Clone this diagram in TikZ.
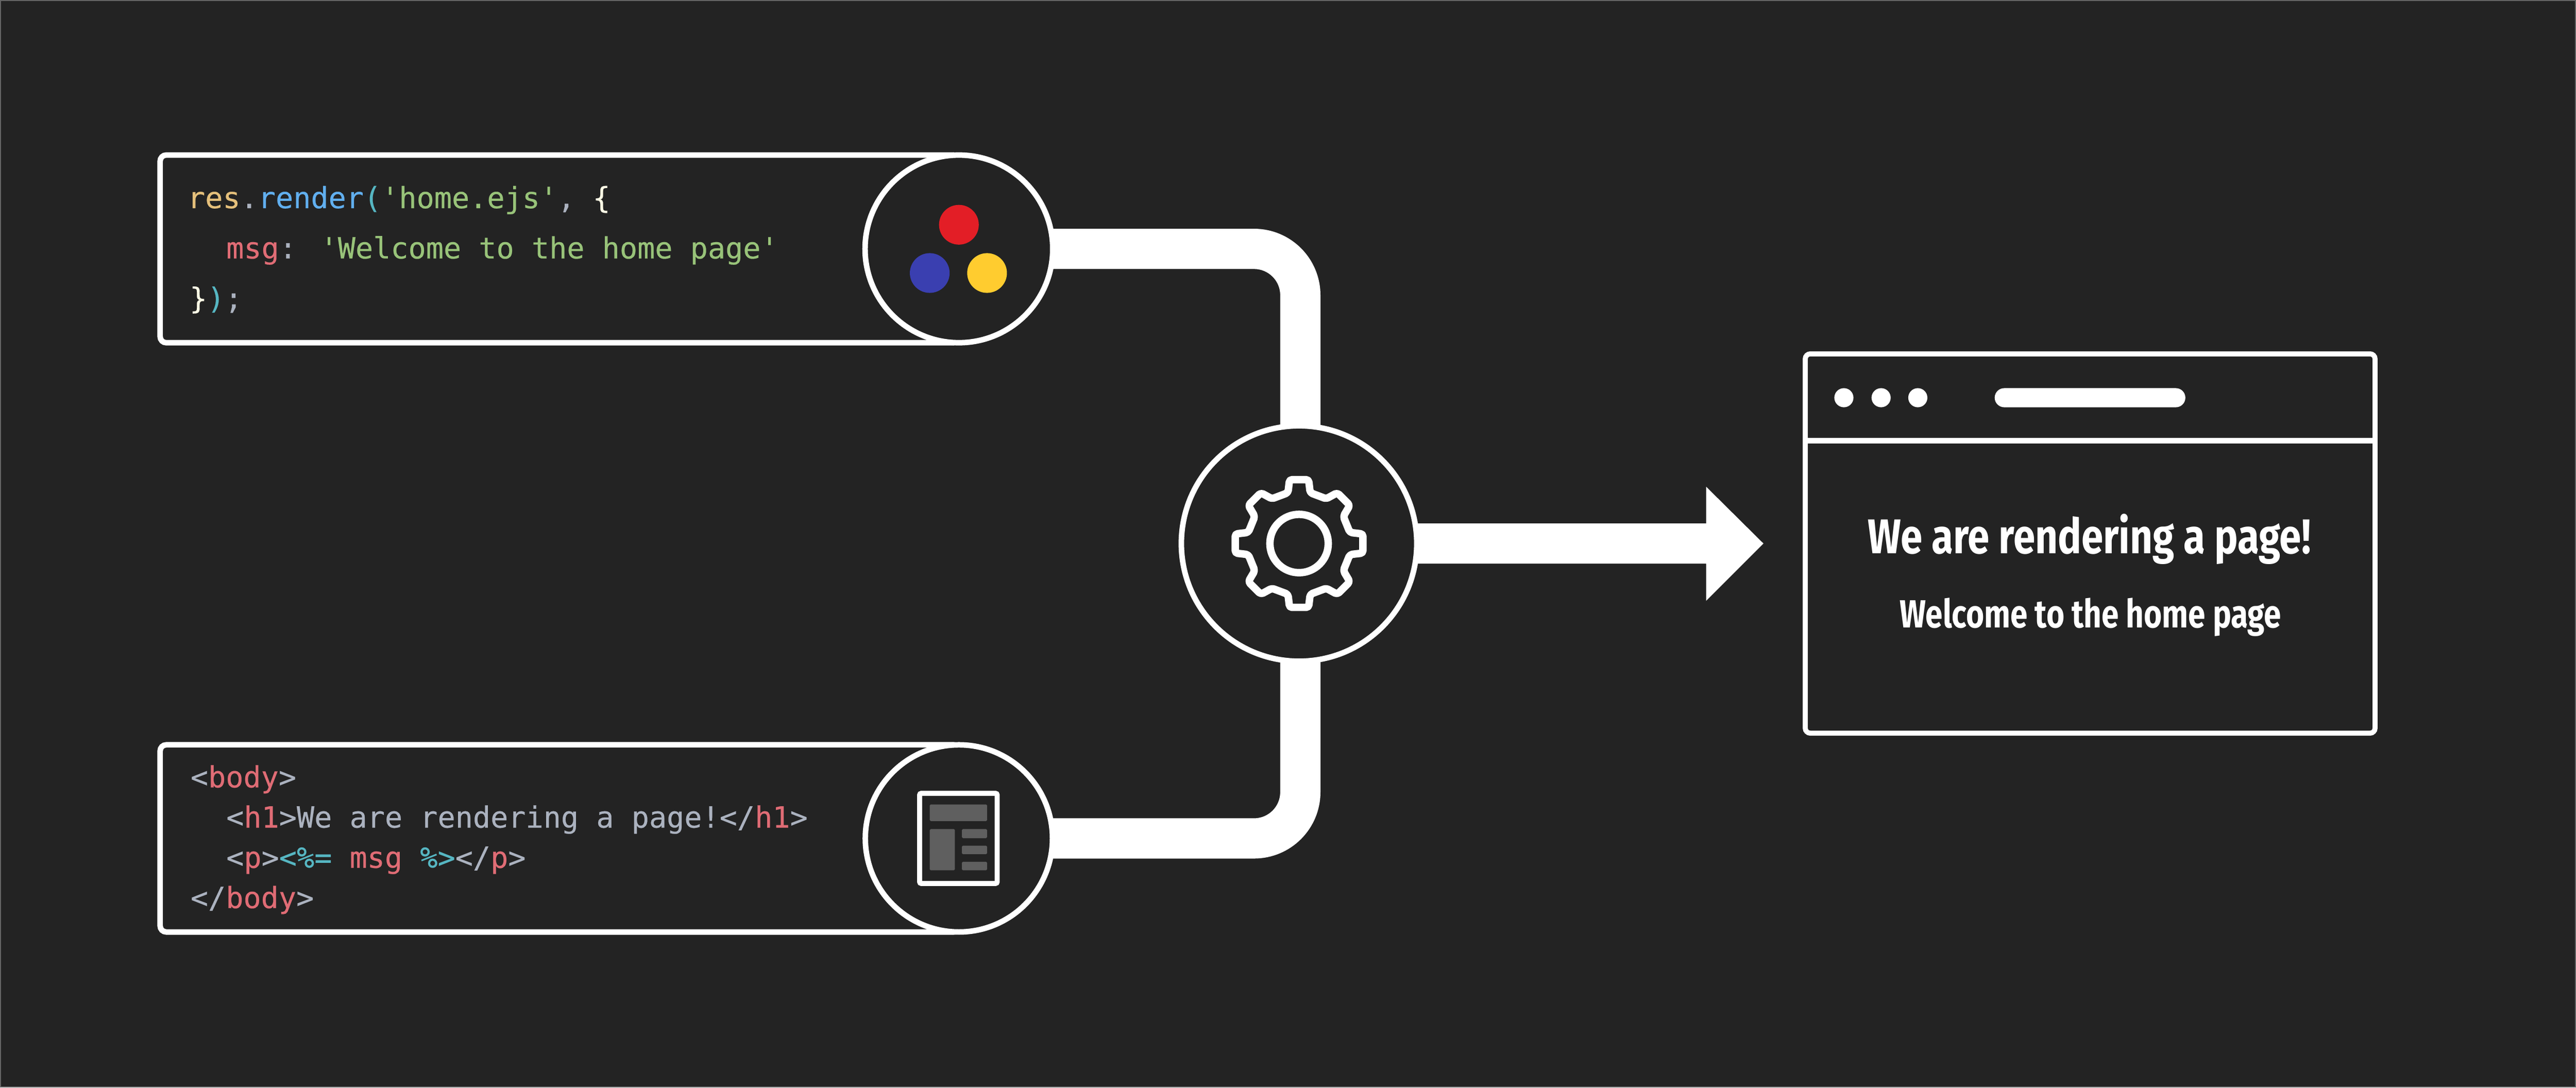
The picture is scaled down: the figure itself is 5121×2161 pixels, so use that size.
\documentclass[tikz,border=0pt]{standalone}
\usepackage{fontspec}
\newfontfamily\codef{DejaVu Sans Mono}[FakeBold=0.35]
\newfontfamily\headf{Fira Sans}
\definecolor{bgc}{HTML}{232323}
\definecolor{edgec}{HTML}{666666}
\definecolor{cred}{HTML}{E06C75}
\definecolor{cgreen}{HTML}{98C379}
\definecolor{cgray}{HTML}{ABB2BF}
\definecolor{cblue}{HTML}{61AFEF}
\definecolor{cteal}{HTML}{56B6C2}
\definecolor{corange}{HTML}{E5C07B}
\definecolor{cbrace}{HTML}{FFFBE6}
\definecolor{iconfill}{HTML}{5F5F5F}
\definecolor{dotred}{HTML}{E31E26}
\definecolor{dotblue}{HTML}{3A3FB0}
\definecolor{dotyellow}{HTML}{FFCC2F}
\pgfdeclarelayer{back}\pgfdeclarelayer{wires}
\pgfsetlayers{back,wires,main}
\newcommand{\cR}[1]{\textcolor{cred}{#1}}
\newcommand{\cG}[1]{\textcolor{cgreen}{#1}}
\newcommand{\cA}[1]{\textcolor{cgray}{#1}}
\newcommand{\cB}[1]{\textcolor{cblue}{#1}}
\newcommand{\cT}[1]{\textcolor{cteal}{#1}}
\newcommand{\cO}[1]{\textcolor{corange}{#1}}
\newcommand{\cW}[1]{\textcolor{cbrace}{#1}}
\tikzset{
  panel/.style={draw=white,line width=0.11cm,fill=bgc,rounded corners=0.12cm,inner sep=0pt,outer sep=0pt},
  hub/.style={circle,draw=white,line width=0.11cm,fill=bgc,inner sep=0pt,outer sep=0pt,minimum size=3.73cm},
  gearhub/.style={circle,draw=white,line width=0.11cm,fill=bgc,inner sep=0pt,outer sep=0pt,minimum size=4.68cm},
  wire/.style={draw=white,line width=0.8cm,rounded corners=0.92cm},
  codeline/.style={anchor=base west,inner sep=0pt,outer sep=0pt,font=\codef\fontsize{16.55}{16.55}\selectfont},
  dot/.style={circle,fill=#1,inner sep=0pt,outer sep=0pt,minimum size=0.79cm},
  tinydot/.style={circle,fill=white,inner sep=0pt,outer sep=0pt,minimum size=0.38cm},
  iconblock/.style={fill=iconfill,rounded corners=0.02cm},
  geartrace/.style={draw=white,line width=0.148cm,line join=round,rounded corners=0.05cm},
  heading/.style={anchor=base,inner sep=0pt,outer sep=0pt,text=white,transform shape},
}
\begin{document}
\begin{tikzpicture}[x=0.01cm,y=-0.01cm]
\begin{pgfonlayer}{back}
  \fill[bgc] (0,0) rectangle (5121,2161);
  \draw[edgec,line width=0.02cm] (0,0) rectangle (5121,2161);
\end{pgfonlayer}
\useasboundingbox (0,0) rectangle (5121,2161);
% panels
\node[panel,minimum width=15.885cm,minimum height=3.73cm,anchor=west] (codeA) at (317.5,494) {};
\node[panel,minimum width=15.885cm,minimum height=3.72cm,anchor=west] (codeB) at (317.5,1666.5) {};
% hubs
\node[hub] (hubA) at (1906,494) {};
\node[hub,minimum size=3.72cm] (hubB) at (1906,1666.5) {};
\node[gearhub] (gear) at (2582.5,1080) {};
% browser
\node[panel,line width=0.10cm,minimum width=11.325cm,minimum height=7.54cm,rounded corners=0.1cm] (browser) at (4155.75,1080) {};
\coordinate (divL) at (3589.5,875.5);
\coordinate (divR) at (4722,875.5);
\draw[white,line width=0.105cm] (divL) -- (divR);
% connectors
\coordinate (rail) at (2585,1080);
\coordinate (tip) at (3506,1080);
\begin{pgfonlayer}{wires}
  \draw[wire] (hubA.center) -- (hubA.center -| rail) -- (rail);
  \draw[wire] (hubB.center) -- (hubB.center -| rail) -- (rail);
  \fill[white] (gear.center) ++(0,-40) -- (3392,1040) -- (3392,967) -- (tip) -- (3392,1194) -- (3392,1120) -- (2582.5,1120) -- cycle;
\end{pgfonlayer}
% coloured dots
\node[dot=dotred] (red) at (1906,446) {};
\node[dot=dotblue] (blue) at (1848,542) {};
\node[dot=dotyellow] (yellow) at (1962,542) {};
% document icon
\node[draw=white,line width=0.10cm,inner sep=0pt,outer sep=0pt,minimum width=1.54cm,minimum height=1.79cm,rounded corners=0.03cm] (doc) at (1905,1666.5) {};
\fill[iconblock] (1848,1599) rectangle (1962,1632);
\fill[iconblock] (1848,1648) rectangle (1898,1730);
\fill[iconblock] (1912,1648) rectangle (1962,1666);
\fill[iconblock] (1912,1681) rectangle (1962,1698);
\fill[iconblock] (1912,1713) rectangle (1962,1730);
% gear
\draw[geartrace,shift={(gear.center)}]
  (-19,-127) -- (19,-127) -- (22,-101) -- (54,-89) -- (76,-101) -- (101,-76) -- (88,-54) -- (101,-22)
  -- (127,-19) -- (127,19) -- (101,22) -- (88,54) -- (101,76) -- (76,101) -- (54,89) -- (22,101)
  -- (19,127) -- (-19,127) -- (-22,101) -- (-54,89) -- (-76,101) -- (-101,76) -- (-88,54) -- (-101,22)
  -- (-127,19) -- (-127,-19) -- (-101,-22) -- (-88,-54) -- (-101,-76) -- (-76,-101) -- (-54,-89) -- (-22,-101) -- cycle;
\node[circle,draw=white,line width=0.148cm,inner sep=0pt,outer sep=0pt,minimum size=1.16cm] (gearring) at (gear.center) {};
% code A
\node[codeline] (a1) at (372,413) {\cO{res}\cA{.}\cB{render}\cT{(}\cG{'home.ejs'}\cA{,} \cW{\{}};
\node[codeline] (a2) at (449,513) {\cR{msg}\cA{:} \cG{'Welcome to the home page'}};
\node[codeline] (a3) at (376,613) {\cW{\}}\cT{)}\cA{;}};
% code B
\node[codeline] (b1) at (378,1565) {\cA{<}\cR{body}\cA{>}};
\node[codeline] (b2) at (449,1645) {\cA{<}\cR{h1}\cA{>We are rendering a page!</}\cR{h1}\cA{>}};
\node[codeline] (b3) at (449,1725) {\cA{<}\cR{p}\cA{>}\cT{<\%=} \cR{msg} \cT{\%>}\cA{</}\cR{p}\cA{>}};
\node[codeline] (b4) at (378,1805) {\cA{</}\cR{body}\cA{>}};
% browser chrome
\node[tinydot] (d1) at (3666,790) {};
\node[tinydot] (d2) at (3740,790) {};
\node[tinydot] (d3) at (3813,790) {};
\node[fill=white,inner sep=0pt,outer sep=0pt,minimum width=3.79cm,minimum height=0.38cm,rounded corners=0.19cm] (bar) at (4155.5,790) {};
% page text
\node[heading,xscale=0.806,font=\headf\bfseries\fontsize{27.6}{27.6}\selectfont] (title) at (4154,1100) {We are rendering a page!};
\node[heading,xscale=0.79,font=\headf\bfseries\fontsize{22.2}{22.2}\selectfont] (subtitle) at (4156.5,1247) {Welcome to the home page};
\end{tikzpicture}
\end{document}
